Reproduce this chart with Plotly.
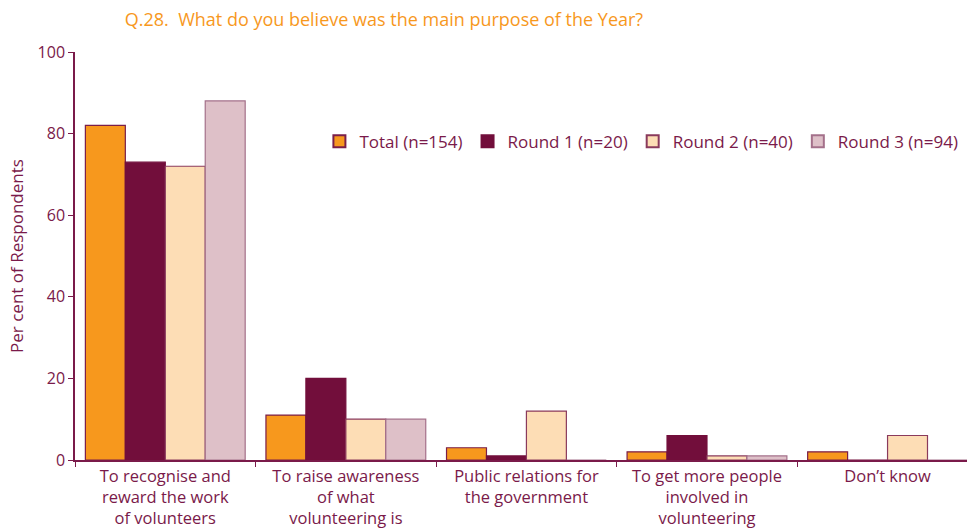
import plotly.graph_objects as go

categories = [
    "To recognise and<br>reward the work<br>of volunteers",
    "To raise awareness<br>of what<br>volunteering is",
    "Public relations for<br>the government",
    "To get more people<br>involved in<br>volunteering",
    "Don’t know",
]
series_names = ["Total (n=154)", "Round 1 (n=20)", "Round 2 (n=40)", "Round 3 (n=94)"]
total = [82, 11, 3, 2, 2]
round1 = [73, 20, 1, 6, 0]
round2 = [72, 10, 12, 1, 6]
round3 = [88, 10, 0, 1, 0]
y_ticks = [0, 20, 40, 60, 80, 100]

fills = ["#F7981D", "#720E3B", "#FDDDB5", "#DEC0C8"]
edges = ["#7A1E4A", "#720E3B", "#8A3A5C", "#A4708A"]
text_col = "#7A1A4A"
font_family = "Open Sans, Lato, sans-serif"

fig = go.Figure()
for name, vals, fc, ec in zip(series_names, [total, round1, round2, round3], fills, edges):
    fig.add_trace(go.Bar(
        x=categories, y=vals, name=name,
        marker=dict(color=fc, line=dict(color=ec, width=1.2)),
    ))

fig.update_layout(
    width=967, height=528,
    margin=dict(l=75, r=0, t=52, b=68),
    paper_bgcolor="white", plot_bgcolor="white",
    barmode="group", bargap=0.115, bargroupgap=0,
    font=dict(family=font_family, color=text_col, size=15),
    title=dict(
        text="Q.28.  What do you believe was the main purpose of the Year?",
        font=dict(color="#F7981D", size=18, family=font_family),
        x=0.129, xanchor="left", y=0.962, yanchor="middle",
    ),
    legend=dict(
        orientation="h", x=0.274, xanchor="left", y=0.78, yanchor="middle",
        font=dict(size=17, color=text_col), bgcolor="rgba(0,0,0,0)",
        itemsizing="constant", traceorder="normal", itemwidth=30,
    ),
    showlegend=True,
)
fig.update_xaxes(
    range=[-0.5, 4.44], showline=True, linecolor=text_col, linewidth=1.5,
    ticks="outside", tickson="boundaries", ticklen=5, tickcolor=text_col,
    tickfont=dict(size=16.5, color=text_col), showgrid=False, zeroline=False,
    automargin=False,
)
fig.update_yaxes(
    range=[0, 100], tickvals=y_ticks, showline=True, linecolor=text_col, linewidth=1.5,
    ticks="outside", ticklen=5, tickcolor=text_col, showgrid=False, zeroline=False,
    tickfont=dict(size=16, color=text_col), automargin=False,
    title=dict(text="Per cent of Respondents", font=dict(size=17, color=text_col), standoff=10),
)

fig.write_html("out.html")
